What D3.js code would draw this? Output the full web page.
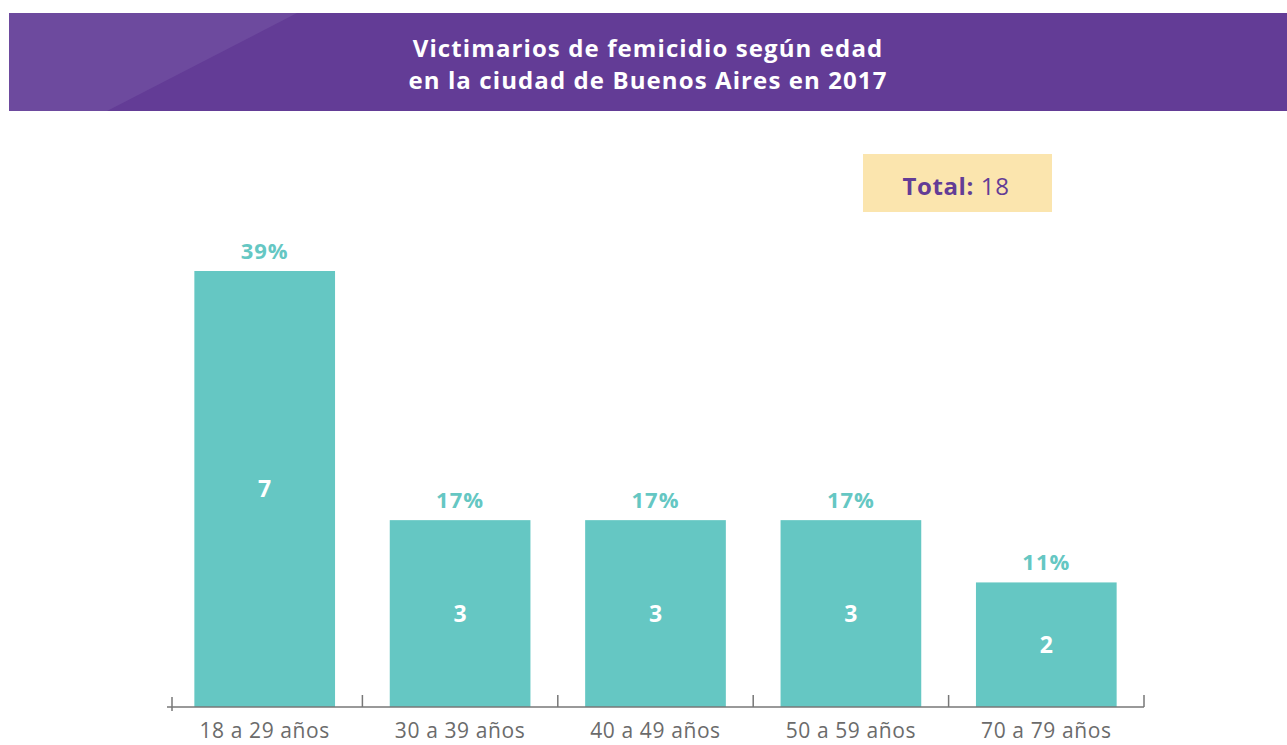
<!DOCTYPE html>
<html>
<head>
<meta charset="utf-8">
<script src="https://cdn.jsdelivr.net/npm/d3@7"></script>
<style>
  body { margin: 0; background: #fff; }
  text { font-family: "Open Sans", sans-serif; }
</style>
</head>
<body>
<div id="chart"></div>
<script>
// data
const categories = ["18 a 29 años", "30 a 39 años", "40 a 49 años", "50 a 59 años", "70 a 79 años"];
const counts = [7, 3, 3, 3, 2];
const percents = ["39%", "17%", "17%", "17%", "11%"];
const titleLines = ["Victimarios de femicidio según edad", "en la ciudad de Buenos Aires en 2017"];
const total = 18;

const W = 1287, H = 745;
const svg = d3.select("#chart").append("svg")
  .attr("width", W).attr("height", H);

// header band
svg.append("rect").attr("x", 9).attr("y", 13).attr("width", W - 9).attr("height", 98)
  .attr("fill", "#633c96");
svg.append("path")
  .attr("d", "M9,13 L297,13 L107,111 L9,111 Z")
  .attr("fill", "#6d4a9e");
svg.selectAll(".title").data(titleLines).enter().append("text")
  .attr("x", 648).attr("y", (d, i) => 57 + i * 32)
  .attr("text-anchor", "middle")
  .attr("fill", "#fff").attr("font-weight", 700).attr("font-size", 24)
  .attr("letter-spacing", 1.1)
  .text(d => d);

// total box
svg.append("rect").attr("x", 863).attr("y", 154).attr("width", 189).attr("height", 58)
  .attr("fill", "#fbe5ae");
const tt = svg.append("text").attr("x", 956).attr("y", 195)
  .attr("text-anchor", "middle").attr("font-size", 24).attr("fill", "#633c96")
  .attr("letter-spacing", 0.6);
tt.append("tspan").attr("font-weight", 700).text("Total: ");
tt.append("tspan").attr("font-weight", 400).text(total);

// scales
const x = d3.scaleBand().domain(categories).range([167, 1144])
  .paddingInner(0.28).paddingOuter(0.14);
const y = d3.scaleLinear().domain([0, 7]).range([707, 271]);

const g = svg.append("g");
g.selectAll(".bar").data(categories).enter().append("rect")
  .attr("x", d => x(d))
  .attr("y", (d, i) => y(counts[i]))
  .attr("width", x.bandwidth())
  .attr("height", (d, i) => y(0) - y(counts[i]))
  .attr("fill", "#65c7c3");

g.selectAll(".pct").data(categories).enter().append("text")
  .attr("x", d => x(d) + x.bandwidth() / 2)
  .attr("y", (d, i) => y(counts[i]) - 12)
  .attr("text-anchor", "middle")
  .attr("font-weight", 700).attr("font-size", 22).attr("fill", "#65c7c3")
  .attr("letter-spacing", 1)
  .text((d, i) => percents[i]);

g.selectAll(".val").data(categories).enter().append("text")
  .attr("x", d => x(d) + x.bandwidth() / 2)
  .attr("y", (d, i) => (y(counts[i]) + y(0)) / 2 + 8)
  .attr("text-anchor", "middle")
  .attr("font-weight", 700).attr("font-size", 23).attr("fill", "#fff")
  .text((d, i) => counts[i]);

// axis
const axis = svg.append("g");
axis.append("line").attr("x1", 167).attr("x2", 1144).attr("y1", 707).attr("y2", 707)
  .attr("stroke", "#777").attr("stroke-width", 1.5);
const bounds = categories.map(d => x(d) - x.step() * x.paddingInner() / 2).slice(1).concat([1144]);
axis.selectAll(".tk").data(bounds).enter().append("line")
  .attr("x1", d => d).attr("x2", d => d).attr("y1", 695).attr("y2", 707)
  .attr("stroke", "#777").attr("stroke-width", 1.5);
axis.append("line").attr("x1", 172).attr("x2", 172).attr("y1", 697).attr("y2", 711)
  .attr("stroke", "#777").attr("stroke-width", 1.5);
axis.selectAll(".lbl").data(categories).enter().append("text")
  .attr("x", d => x(d) + x.bandwidth() / 2)
  .attr("y", 738)
  .attr("text-anchor", "middle")
  .attr("font-size", 21).attr("fill", "#6b6b6b")
  .attr("letter-spacing", 0.6)
  .text(d => d);
</script>
</body>
</html>
